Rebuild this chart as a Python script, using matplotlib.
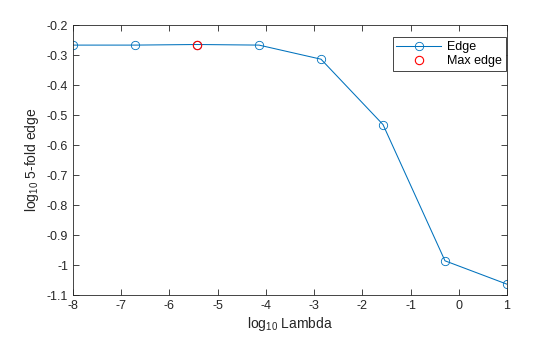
import matplotlib.pyplot as plt
import matplotlib.ticker as mticker

# log10 lambda values and the 5-fold edge
log_lambda = [-8, -6.714, -5.429, -4.143, -2.857, -1.571, -0.286, 1]
log_edge = [-0.267, -0.267, -0.265, -0.267, -0.314, -0.532, -0.986, -1.064]
max_x = [-5.429]
max_y = [-0.265]

plt.rcParams['font.family'] = ['Liberation Sans', 'DejaVu Sans']
plt.rcParams['mathtext.default'] = 'regular'
dark = '#262626'

fig = plt.figure(figsize=(5.6, 3.37), dpi=100)
ax = fig.add_axes([73 / 560, 42 / 337, 434 / 560, 270 / 337])

ax.plot(log_lambda, log_edge, color='#0072BD', lw=0.75, marker='o', ms=6,
        mfc='none', mec='#0072BD', mew=0.6, label='Edge')
ax.plot(max_x, max_y, ls='none', marker='o', ms=6, mfc='none', mec='#FF0000',
        mew=0.8, label='Max edge')

ax.set_xlim(-8, 1)
ax.set_ylim(-1.1, -0.2)
ax.set_xticks(range(-8, 2))
ax.set_yticks([-1.1, -1, -0.9, -0.8, -0.7, -0.6, -0.5, -0.4, -0.3, -0.2])
ax.xaxis.set_major_formatter(mticker.FormatStrFormatter('%g'))
ax.yaxis.set_major_formatter(mticker.FormatStrFormatter('%g'))
ax.tick_params(direction='in', top=True, right=True, length=4, width=0.6,
               colors=dark, labelsize=9)
for s in ax.spines.values():
    s.set_color(dark)
    s.set_linewidth(0.6)

ax.set_xlabel(r'log$_{10}$ Lambda', fontsize=10, color=dark, labelpad=2)
ax.set_ylabel(r'log$_{10}$ 5-fold edge', fontsize=10, color=dark, labelpad=4)

leg = ax.legend(loc='upper right', bbox_to_anchor=(0.997, 0.955), fontsize=9,
                fancybox=False, framealpha=1, edgecolor=dark, handlelength=3.6,
                borderpad=0.3, labelspacing=0.2, handletextpad=0.45,
                borderaxespad=0)
leg.get_frame().set_linewidth(0.6)

fig.savefig('out.png', dpi=100)
